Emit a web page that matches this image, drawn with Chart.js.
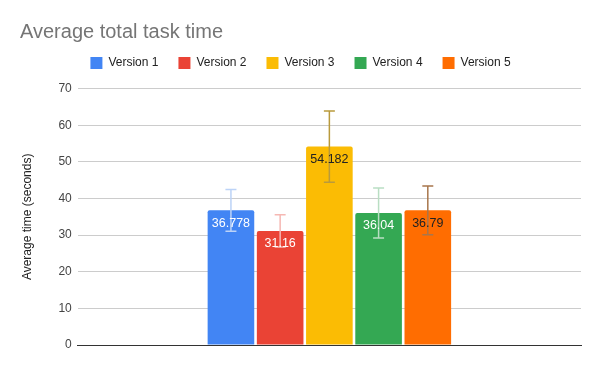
<!DOCTYPE html>
<html>
<head>
<meta charset="utf-8">
<script src="https://cdn.jsdelivr.net/npm/chart.js@4"></script>
<style>
  html, body { margin: 0; padding: 0; background: #ffffff; }
  #wrap { width: 600px; height: 371px; }
</style>
</head>
<body>
<div id="wrap"><canvas id="taskChart" width="600" height="371"></canvas></div>
<script>
// data
const versions = ['Version 1', 'Version 2', 'Version 3', 'Version 4', 'Version 5'];
const avgTimes = [36.778, 31.16, 54.182, 36.04, 36.79];
const errors = [5.7, 4.4, 9.7, 6.85, 6.65];
const yTicks = [0, 10, 20, 30, 40, 50, 60, 70];

const barColors = ['#4285f4', '#ea4335', '#fbbc04', '#34a853', '#ff6d01'];
const errColors = ['#bcd3f7', '#f6b8b3', '#b99a3c', '#b9dec3', '#a8764c'];
const labelColors = ['#ffffff', '#ffffff', '#222222', '#ffffff', '#222222'];

const FONT = '"Liberation Sans", Arial, sans-serif';

const datasets = versions.map((name, i) => ({
    label: name,
    data: [avgTimes[i]],
    backgroundColor: barColors[i],
    borderWidth: 0,
    borderRadius: { topLeft: 2, topRight: 2 },
    borderSkipped: 'bottom',
    categoryPercentage: 0.489,
    barPercentage: 0.947
}));

// legend padding is wide to space the items, pull the row back up
const legendNudge = {
    id: 'legendNudge',
    afterLayout(chart) {
        const lg = chart.legend;
        lg.top -= 9.7;
        lg.bottom -= 9.7;
    }
};

// error bars + value labels, placed through the y scale
const barExtras = {
    id: 'barExtras',
    afterDatasetsDraw(chart) {
        const ctx = chart.ctx;
        const yScale = chart.scales.y;
        ctx.save();
        chart.data.datasets.forEach((ds, i) => {
            const bar = chart.getDatasetMeta(i).data[0];
            const x = bar.x;
            const top = yScale.getPixelForValue(avgTimes[i] + errors[i]);
            const bottom = yScale.getPixelForValue(avgTimes[i] - errors[i]);
            ctx.strokeStyle = errColors[i];
            ctx.lineWidth = 1.5;
            ctx.beginPath();
            ctx.moveTo(x, top);
            ctx.lineTo(x, bottom);
            ctx.moveTo(x - 5.5, top);
            ctx.lineTo(x + 5.5, top);
            ctx.moveTo(x - 5.5, bottom);
            ctx.lineTo(x + 5.5, bottom);
            ctx.stroke();

            ctx.fillStyle = labelColors[i];
            ctx.font = '12.5px ' + FONT;
            ctx.textAlign = 'center';
            ctx.textBaseline = 'middle';
            ctx.fillText(String(avgTimes[i]), x, bar.y + 13);
        });
        ctx.restore();
    }
};

new Chart(document.getElementById('taskChart').getContext('2d'), {
    type: 'bar',
    data: {
        labels: [''],
        datasets: datasets
    },
    options: {
        responsive: false,
        animation: false,
        layout: {
            padding: { left: 20, right: 19, top: 2, bottom: 18 }
        },
        scales: {
            x: {
                grid: { display: false },
                border: { color: '#333333' },
                ticks: { display: false }
            },
            y: {
                min: 0,
                max: 70,
                afterBuildTicks(axis) {
                    axis.ticks = yTicks.map(v => ({ value: v }));
                },
                grid: {
                    color: ctx => ctx.tick.value === 0 ? '#333333' : '#cccccc',
                    drawTicks: false
                },
                border: { display: false },
                ticks: {
                    padding: 6,
                    color: '#444444',
                    font: { family: FONT, size: 12 }
                },
                title: {
                    display: true,
                    text: 'Average time (seconds)',
                    color: '#222222',
                    font: { family: FONT, size: 12 },
                    padding: { top: 0, bottom: 18 }
                }
            }
        },
        plugins: {
            title: {
                display: true,
                text: 'Average total task time',
                align: 'start',
                color: '#757575',
                font: { family: FONT, size: 20, weight: 'normal' },
                padding: { top: 18, bottom: 2.7 }
            },
            legend: {
                labels: {
                    boxWidth: 12,
                    boxHeight: 12,
                    padding: 20,
                    color: '#222222',
                    font: { family: FONT, size: 12 }
                }
            },
            tooltip: { enabled: false }
        }
    },
    plugins: [legendNudge, barExtras]
});
</script>
</body>
</html>
